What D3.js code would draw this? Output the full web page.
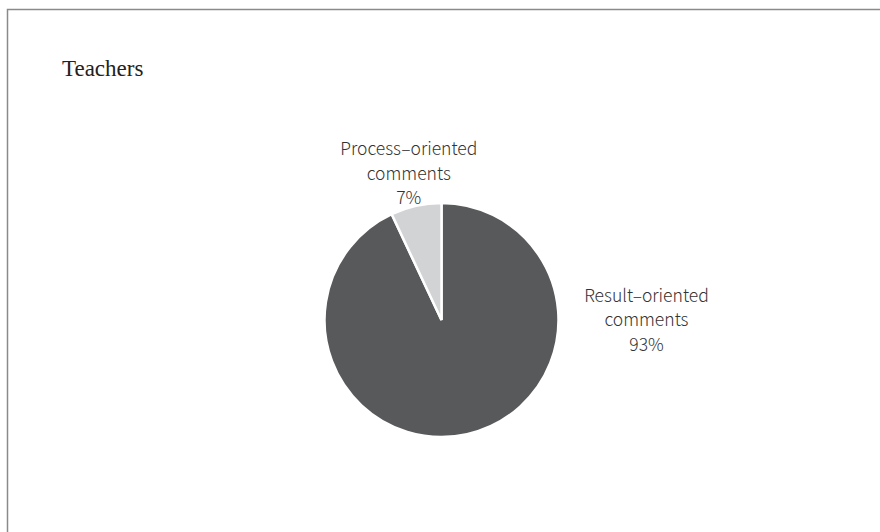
<!DOCTYPE html>
<html>
<head>
<meta charset="utf-8">
<script src="https://cdn.jsdelivr.net/npm/d3@7"></script>
<style>
  html, body { margin: 0; padding: 0; background: #fff; }
  svg { display: block; }
</style>
</head>
<body>
<script>
// chart data
const categories = ['Result–oriented comments', 'Process–oriented comments'];
const values = [93, 7];
const colours = ['#58595b', '#d1d3d4'];
const title = 'Teachers';

const width = 880;
const height = 532;
const cx = 441.5, cy = 320, radius = 117;

// where each label sits: angle (deg, clockwise from top) and distance from centre
// result label is pushed out to the right, process label follows its slice
const labelPlace = [{ angle: 90, r: 205 }, { angle: null, r: 150 }];

const svg = d3.select('body').append('svg')
  .attr('width', width)
  .attr('height', height);

// frame
svg.append('rect')
  .attr('x', 7.5).attr('y', 9.5)
  .attr('width', width).attr('height', height)
  .attr('fill', 'none')
  .attr('stroke', '#8a8a8a')
  .attr('stroke-width', 1.5);

svg.append('text')
  .attr('x', 62).attr('y', 76)
  .attr('font-family', '"Liberation Serif", "DejaVu Serif", serif')
  .attr('font-size', 23)
  .attr('fill', '#222')
  .text(title);

const pie = d3.pie().sort(null).value((d) => d);
const arcs = pie(values);
const arc = d3.arc().innerRadius(0).outerRadius(radius);

const g = svg.append('g').attr('transform', `translate(${cx},${cy})`);

g.selectAll('path')
  .data(arcs)
  .join('path')
  .attr('d', arc)
  .attr('fill', (d, i) => colours[i])
  .attr('stroke', '#fff')
  .attr('stroke-width', 2.5)
  .attr('stroke-linejoin', 'miter');

const fmt = d3.format('.0%');
const total = d3.sum(values);

arcs.forEach((d, i) => {
  const p = labelPlace[i];
  const a = p.angle === null ? (d.startAngle + d.endAngle) / 2 : p.angle * Math.PI / 180;
  const x = Math.sin(a) * p.r;
  const y = -Math.cos(a) * p.r;
  const words = categories[i].split(' ');
  const lines = [words[0], words.slice(1).join(' '), fmt(values[i] / total)];
  const lh = 24.5;
  const t = g.append('text')
    .attr('text-anchor', 'middle')
    .attr('font-family', '"Noto Sans CJK KR", "Noto Sans", sans-serif')
    .attr('font-size', 17.5)
    .attr('font-weight', 300)
    .attr('fill', '#333');
  lines.forEach((line, j) => {
    t.append('tspan')
      .attr('x', x)
      .attr('y', y + (j - 1) * lh + 6)
      .text(line);
  });
});
</script>
</body>
</html>
